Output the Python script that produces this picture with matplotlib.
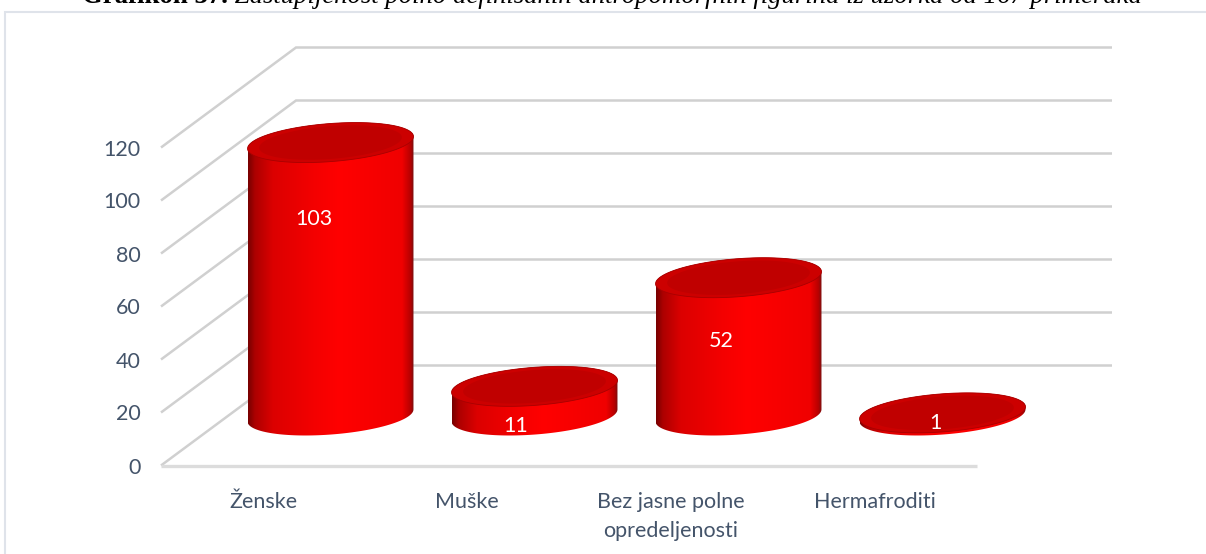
import numpy as np
import matplotlib
matplotlib.use('Agg')
import matplotlib.pyplot as plt
from matplotlib.colors import LinearSegmentedColormap
from matplotlib.patches import Polygon, Rectangle

categories = ['Ženske', 'Muške', 'Bez jasne polne\nopredeljenosti', 'Hermafroditi']
values = [103, 11, 52, 1]
y_ticks = [0, 20, 40, 60, 80, 100, 120]
title_bold = 'Grafikon 37.'
title_rest = ' Zastupljenost polno definisanih antropomorfnih figurina iz uzorka od 167 primeraka'

# mjesto brojki na stubovima (vrijednost na osi y)
label_y = [93, 15, 47, 16]
label_dx = [0.25, 0.24, 0.245, 0.295]

W, H = 1206, 554
TXT = '#44546a'
GRID = '#d0d0d0'
FS = 15.5

fig = plt.figure(figsize=(W / 100, H / 100), dpi=100)
ax = fig.add_axes([161 / W, (H - 465.5) / H, 816 / W, 318 / H])
ax.patch.set_visible(False)
for s in ax.spines.values():
    s.set_visible(False)

# skala: koliko piksela po jedinici
sx = 816 / 4
sy = 318 / 120
depth_x = 135 / sx
depth_y = 100 / sy

# okvir grafikona
fig.add_artist(Rectangle((5 / W, -0.01), 1.1, (H - 12) / H + 0.01, transform=fig.transFigure,
                         fc='white', ec='#dfe3ea', lw=1.5, zorder=-1))

# zidovi i linije mreze
for v in y_ticks:
    ax.plot([-0.5, -0.5 + depth_x, 3.5 + depth_x], [v, v + depth_y, v + depth_y],
            color=GRID, lw=1.8, clip_on=False, zorder=1, solid_joinstyle='miter', solid_capstyle='butt')
ax.plot([-0.5, 3.5], [0, 0], color='#dcdcdc', lw=2.4, clip_on=False, zorder=1, solid_capstyle='butt')

grad = LinearSegmentedColormap.from_list('cyl', [(0, '#780000'), (0.04, '#ac0000'), (0.15, '#dc0000'),
                                                 (0.4, '#f40000'), (0.55, '#ff0000'), (0.93, '#f00000'),
                                                 (0.98, '#b80000'), (1, '#7a1010')])

a, b, th = 83.2, 19.0, np.radians(4.4)


def ell(t, k=1.0):
    # elipsa u pikselima, vraca jedinice osa
    x = k * a * np.cos(t) * np.cos(th) - k * b * np.sin(t) * np.sin(th)
    y = k * a * np.cos(t) * np.sin(th) + k * b * np.sin(t) * np.cos(th)
    return x / sx, y / sy


t_r = np.arctan2(-b * np.sin(th), a * np.cos(th))
hw = np.hypot(a * np.cos(th), b * np.sin(th)) / sx

for i, v in enumerate(values):
    cx = i + depth_x / 2
    cy = depth_y / 2
    # donji luk baze + gornji luk vrha
    tb = np.linspace(t_r - np.pi, t_r, 80)
    tt = np.linspace(t_r, t_r + np.pi, 80)
    xb, yb = ell(tb)
    xt, yt = ell(tt)
    outline = np.column_stack([np.r_[cx + xb, cx + xt], np.r_[cy + yb, cy + v + yt]])
    body = Polygon(outline, closed=True, transform=ax.transData, fc='none', ec='none')
    ax.add_patch(body)
    im = ax.imshow(np.linspace(0, 1, 256).reshape(1, -1), cmap=grad, aspect='auto',
                   extent=[cx - hw, cx + hw, cy - 20, cy + v + 20], zorder=3)
    im.set_clip_path(body)
    im.set_clip_box(fig.bbox)  # inace ga osa odsijece na 120
    tall = np.linspace(0, 2 * np.pi, 160)
    ex, ey = ell(tall)
    ax.add_patch(Polygon(np.column_stack([cx + ex, cy + v + ey]), closed=True, fc='#cc0000',
                         ec='#a80000', lw=0.6, clip_on=False, zorder=4))
    ex, ey = ell(tall, 0.86)
    ax.add_patch(Polygon(np.column_stack([cx + ex, cy + v + ey]), closed=True, fc='#c00000',
                         ec='none', clip_on=False, zorder=4))
    ax.text(i + label_dx[i], label_y[i], str(v), color='white', ha='center', va='center',
            fontsize=FS, family='Lato', zorder=5)

ax.set_xlim(-0.5, 3.5)
ax.set_ylim(0, 120)
ax.set_xticks(range(4))
ax.set_xticklabels(categories, family='Lato', fontsize=FS, color=TXT, linespacing=1.6, va='top')
ax.set_yticks(y_ticks)
ax.set_yticklabels([str(v) for v in y_ticks], family='Lato', fontsize=FS, color=TXT)
ax.tick_params(axis='x', length=0, pad=19)
ax.tick_params(axis='y', length=0, pad=14.5)

# naslov, malo odsjecen gore kao na slici
t1 = fig.text(82 / W, (H - 3) / H, title_bold, family='Liberation Serif', weight='bold', fontsize=19.3,
              color='black', ha='left', va='baseline')
fig.canvas.draw()
bb = t1.get_window_extent()
fig.text(bb.x1 / W, (H - 3) / H, title_rest, family='Liberation Serif', style='italic', fontsize=19.3,
         color='black', ha='left', va='baseline')

fig.savefig('out.png', dpi=100)
